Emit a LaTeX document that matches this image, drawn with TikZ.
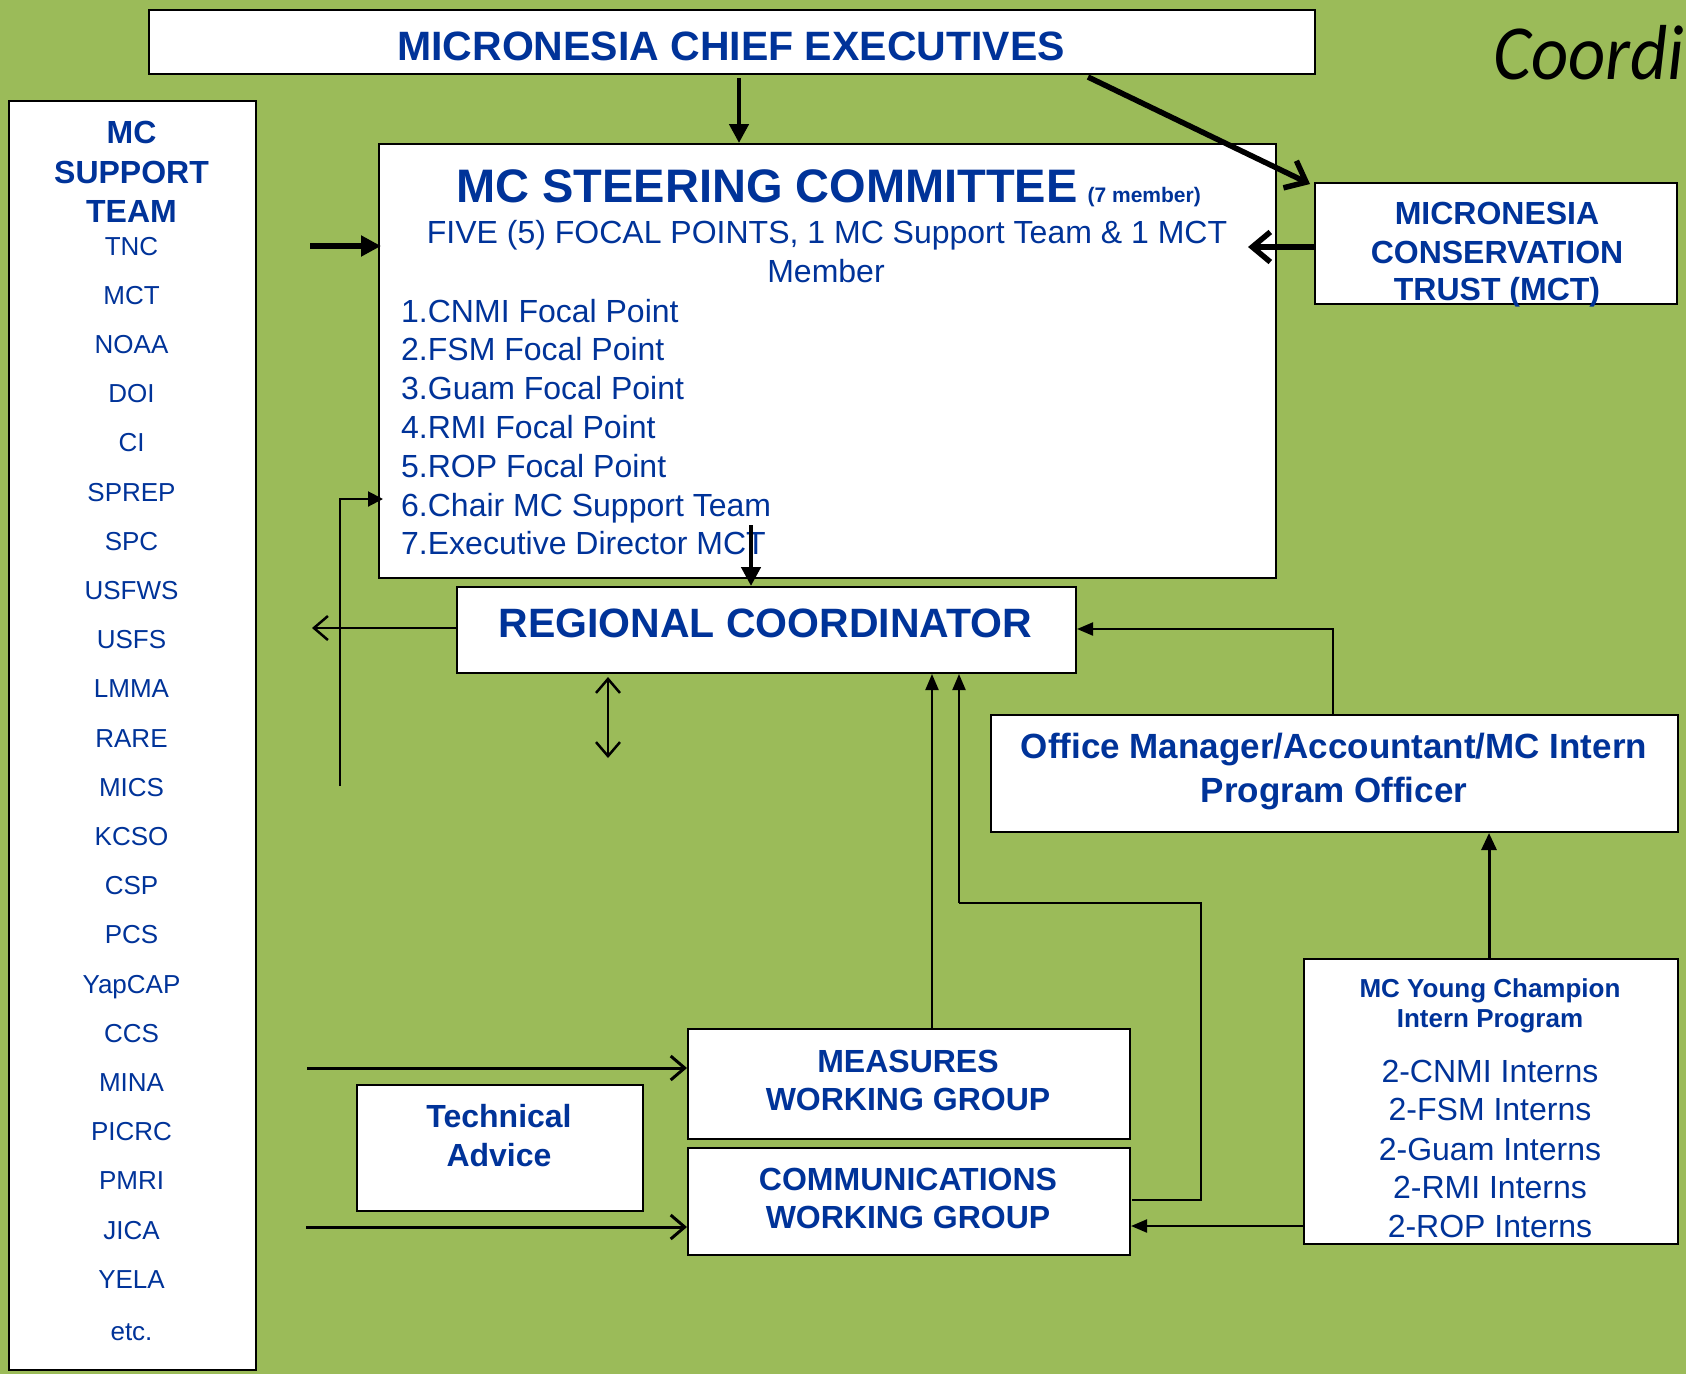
\documentclass[tikz,border=0pt]{standalone}
\usepackage{fontspec}
\setmainfont{Liberation Sans}
\newfontfamily\carl[FakeStretch=0.93]{Carlito}
\usetikzlibrary{arrows.meta}
\definecolor{tblue}{RGB}{0,51,153}
\definecolor{bggreen}{RGB}{155,187,89}
\newcommand{\myfs}[1]{\fontsize{#1}{#1}\selectfont}
\tikzset{
  box/.style={draw=black, fill=white, line width=2pt, inner sep=0pt, anchor=north west},
  lbl/.style={text=tblue, inner sep=0pt, anchor=base},
  lblw/.style={lbl, anchor=base west},
  thinarr/.style={line width=2pt, -{Triangle[length=16pt,width=13pt]}},
  thickarr/.style={line width=4.5pt, -{Triangle[length=19pt,width=19pt]}},
  openarr/.style={line width=2.5pt, -{Straight Barb[length=14pt,width=24pt]}},
  bigopen/.style={line width=5.5pt, -{Straight Barb[length=18pt,width=30pt]}},
}
\begin{document}
\begin{tikzpicture}[x=1pt,y=-1pt]
\useasboundingbox (0,0) rectangle (1686,1374);
\fill[bggreen] (0,0) rectangle (1686,1374);

% boxes
\node[box, minimum width=1166pt, minimum height=64pt] (ce) at (148,9) {};
\node[box, minimum width=247pt, minimum height=1269pt] (sup) at (8,100) {};
\node[box, minimum width=897pt, minimum height=434pt] (steer) at (378,143) {};
\node[box, minimum width=362pt, minimum height=121pt] (mct) at (1314,182) {};
\node[box, minimum width=619pt, minimum height=86pt] (rc) at (456,586) {};
\node[box, minimum width=687pt, minimum height=117pt] (om) at (990,714) {};
\node[box, minimum width=374pt, minimum height=285pt] (yc) at (1303,958) {};
\node[box, minimum width=442pt, minimum height=110pt] (mwg) at (687,1028) {};
\node[box, minimum width=442pt, minimum height=107pt] (cwg) at (687,1147) {};
\node[box, minimum width=286pt, minimum height=126pt] (ta) at (356,1084) {};

% texts
\node[lbl, font=\bfseries\myfs{41}] (cet) at (731,60) {MICRONESIA CHIEF EXECUTIVES};
\node[anchor=base west, inner sep=0pt, font=\carl\itshape\myfs{78}] (coordt) at (1493,79) {Coordi};

\node[lbl, font=\bfseries\myfs{32}] (sup1) at (131.5,143) {MC};
\node[lbl, font=\bfseries\myfs{32}] (sup2) at (131.5,183) {SUPPORT};
\node[lbl, font=\bfseries\myfs{32}] (sup3) at (131.5,222) {TEAM};
\foreach \t [count=\i from 0] in {TNC,MCT,NOAA,DOI,CI,SPREP,SPC,USFWS,USFS,LMMA,RARE,MICS,KCSO,CSP,PCS,YapCAP,CCS,MINA,PICRC,PMRI,JICA,YELA}
  \node[lbl, font=\myfs{26}] (si\i) at (131.5,{255+49.2*\i}) {\t};
\node[lbl, font=\myfs{26}] (setc) at (131.5,1340) {etc.};

\node[lblw] (sct) at (456,202) {\bfseries\myfs{47}MC STEERING COMMITTEE\hspace{10pt}\myfs{21}(7 member)};
\node[lbl, font=\myfs{32}] (scf) at (827,243) {FIVE (5) FOCAL POINTS, 1 MC Support Team \& 1 MCT};
\node[lbl, font=\myfs{32}] (scm) at (826,282) {Member};
\foreach \t/\y [count=\i] in {1.CNMI Focal Point/322, 2.FSM Focal Point/360, 3.Guam Focal Point/399, 4.RMI Focal Point/438, 5.ROP Focal Point/477, 6.Chair MC Support Team/516, 7.Executive Director MCT/554}
  \node[lblw, font=\myfs{32}] (sl\i) at (401,\y) {\t};

\node[lbl, font=\bfseries\myfs{32}] (mct1) at (1497,224) {MICRONESIA};
\node[lbl, font=\bfseries\myfs{32}] (mct2) at (1497,263) {CONSERVATION};
\node[lbl, font=\bfseries\myfs{32}] (mct3) at (1497,300) {TRUST (MCT)};

\node[lbl, font=\bfseries\myfs{41}] (rct) at (765.5,637) {REGIONAL COORDINATOR};

\node[lbl, font=\bfseries\myfs{35}] (om1) at (1334,758) {Office Manager/Accountant/MC Intern};
\node[lbl, font=\bfseries\myfs{35}] (om2) at (1334,802) {Program Officer};

\node[lbl, font=\bfseries\myfs{26}] (yc1) at (1490,997) {MC Young Champion};
\node[lbl, font=\bfseries\myfs{26}] (yc2) at (1490,1027) {Intern Program};
\foreach \t/\y [count=\i] in {2-CNMI Interns/1082, 2-FSM Interns/1120, 2-Guam Interns/1160, 2-RMI Interns/1198, 2-ROP Interns/1237}
  \node[lbl, font=\myfs{32}] (yci\i) at (1490,\y) {\t};

\node[lbl, font=\bfseries\myfs{32}] (mw1) at (908,1072) {MEASURES};
\node[lbl, font=\bfseries\myfs{32}] (mw2) at (908,1110) {WORKING GROUP};
\node[lbl, font=\bfseries\myfs{32}] (cw1) at (908,1190) {COMMUNICATIONS};
\node[lbl, font=\bfseries\myfs{32}] (cw2) at (908,1228) {WORKING GROUP};
\node[lbl, font=\bfseries\myfs{32}] (ta1) at (499,1127) {Technical};
\node[lbl, font=\bfseries\myfs{32}] (ta2) at (499,1166) {Advice};

% free ends
\coordinate (ceout) at (739,78);
\coordinate (cediag) at (1088,77);
\coordinate (mcttip) at (1310,184);
\coordinate (mctin) at (1248,247);
\coordinate (leftin) at (310,246);
\coordinate (steerin) at (381,246);
\coordinate (execout) at (751,525);
\coordinate (rcleft) at (312,628);
\coordinate (vbot) at (340,786);
\coordinate (vtop) at (340,499);
\coordinate (vtip) at (383,499);
\coordinate (dtop) at (608,677);
\coordinate (dbot) at (608,758);
\coordinate (omup) at (1333,629);
\coordinate (cwout) at (1132,1200);
\coordinate (cwr) at (1201,1200);
\coordinate (cwup) at (1201,903);
\coordinate (cwl) at (959,903);
\coordinate (mwin) at (307,1068);
\coordinate (cwin) at (306,1227);

% connectors
\draw[thickarr] (ceout) -- (ceout |- steer.north);
\draw[bigopen] (cediag) -- (mcttip);
\draw[bigopen] (mctin -| mct.west) -- (mctin);
\draw[line width=6pt, -{Triangle[length=20pt,width=20pt]}] (leftin) -- (steerin);
\draw[thickarr] (execout) -- (execout |- rc.north);
\draw[openarr] (rcleft -| rc.west) -- (rcleft);
\draw[line width=2pt, -{Triangle[length=15pt,width=15pt]}] (vbot) -- (vtop) -- (vtip);
\draw[line width=2.5pt, {Straight Barb[length=14pt,width=24pt]}-{Straight Barb[length=14pt,width=24pt]}] (dtop) -- (dbot);
\draw[thinarr] (omup |- om.north) -- (omup) -- (omup -| rc.east);
\draw[line width=3pt, -{Triangle[length=17pt,width=15pt]}] (1489,958 |- yc.north) -- (1489,958 |- om.south);
\draw[thinarr] (932,0 |- mwg.north) -- (932,0 |- rc.south);
\draw[line width=2pt] (cwout) -- (cwr) -- (cwup) -- (cwl);
\draw[thinarr] (cwl) -- (cwl |- rc.south);
\draw[thinarr] (yc.west |- 0,1226) -- (cwg.east |- 0,1226);
\draw[openarr, line width=3pt] (mwin) -- (mwin -| mwg.west);
\draw[openarr, line width=3pt] (cwin) -- (cwin -| cwg.west);
\end{tikzpicture}
\end{document}
